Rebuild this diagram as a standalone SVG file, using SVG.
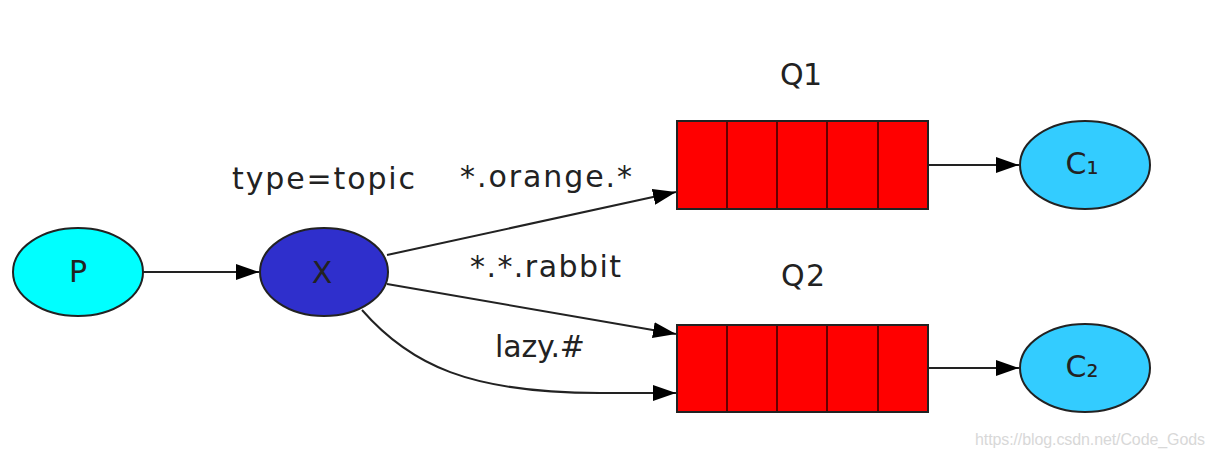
<svg xmlns="http://www.w3.org/2000/svg" width="1215" height="458" viewBox="0 0 1215 458">
<style>
.lbl{font-family:"DejaVu Sans",sans-serif;font-size:30px;fill:#222}
.node{stroke:#222;stroke-width:2}
.q{fill:#ff0000;stroke:#222;stroke-width:2}
.div{stroke:#600;stroke-width:2}
.edge{fill:none;stroke:#222;stroke-width:2}
</style>
<defs>
<marker id="ah" markerUnits="userSpaceOnUse" markerWidth="24" markerHeight="16" refX="23" refY="8" orient="auto">
<path d="M0,0 L23,8 L0,16 Z" fill="#000"/>
</marker>
</defs>
<rect width="1215" height="458" fill="#fff"/>
<g id="connectors">
<line class="edge" x1="143" y1="272" x2="259" y2="272" marker-end="url(#ah)"/>
<line class="edge" x1="387" y1="255" x2="676" y2="192" marker-end="url(#ah)"/>
<line class="edge" x1="387" y1="284" x2="676" y2="334" marker-end="url(#ah)"/>
<path class="edge" d="M362,310 C410,365 470,393 600,393 L676,393" marker-end="url(#ah)"/>
<line class="edge" x1="928" y1="165" x2="1019" y2="165" marker-end="url(#ah)"/>
<line class="edge" x1="928" y1="368" x2="1019" y2="368" marker-end="url(#ah)"/>
</g>
<g id="P">
<ellipse class="node" cx="78" cy="272" rx="65" ry="44" fill="#00ffff"/>
<text class="lbl" x="78" y="282" text-anchor="middle">P</text>
</g>
<g id="X">
<ellipse class="node" cx="324" cy="272" rx="64" ry="44" fill="#2f2fcc"/>
<text class="lbl" x="322" y="283" text-anchor="middle" fill="#111">X</text>
</g>
<g id="Q1">
<rect class="q" x="677" y="121" width="251" height="88"/>
<line class="div" x1="727" y1="122" x2="727" y2="208"/>
<line class="div" x1="777" y1="122" x2="777" y2="208"/>
<line class="div" x1="827" y1="122" x2="827" y2="208"/>
<line class="div" x1="878" y1="122" x2="878" y2="208"/>
<text class="lbl" x="801" y="85" text-anchor="middle" textLength="42">Q1</text>
</g>
<g id="Q2">
<rect class="q" x="677" y="325" width="251" height="87"/>
<line class="div" x1="727" y1="326" x2="727" y2="411"/>
<line class="div" x1="777" y1="326" x2="777" y2="411"/>
<line class="div" x1="827" y1="326" x2="827" y2="411"/>
<line class="div" x1="878" y1="326" x2="878" y2="411"/>
<text class="lbl" x="803" y="286" text-anchor="middle" textLength="44">Q2</text>
</g>
<g id="C1">
<ellipse class="node" cx="1085" cy="165" rx="65" ry="44" fill="#33ccff"/>
<text class="lbl" x="1082" y="174" text-anchor="middle" font-size="26">C₁</text>
</g>
<g id="C2">
<ellipse class="node" cx="1085" cy="368" rx="65" ry="44" fill="#33ccff"/>
<text class="lbl" x="1082" y="377" text-anchor="middle" font-size="26">C₂</text>
</g>
<g id="labels">
<text class="lbl" x="232" y="189" textLength="183">type=topic</text>
<text class="lbl" x="460" y="187" textLength="172">*.orange.*</text>
<text class="lbl" x="470" y="277" textLength="151">*.*.rabbit</text>
<text class="lbl" x="495" y="357" textLength="90">lazy.#</text>
</g>
<text x="975" y="445" font-family="Liberation Sans, Arial, sans-serif" font-size="16" fill="#d8d8d8" textLength="230">https://blog.csdn.net/Code_Gods</text>
</svg>
